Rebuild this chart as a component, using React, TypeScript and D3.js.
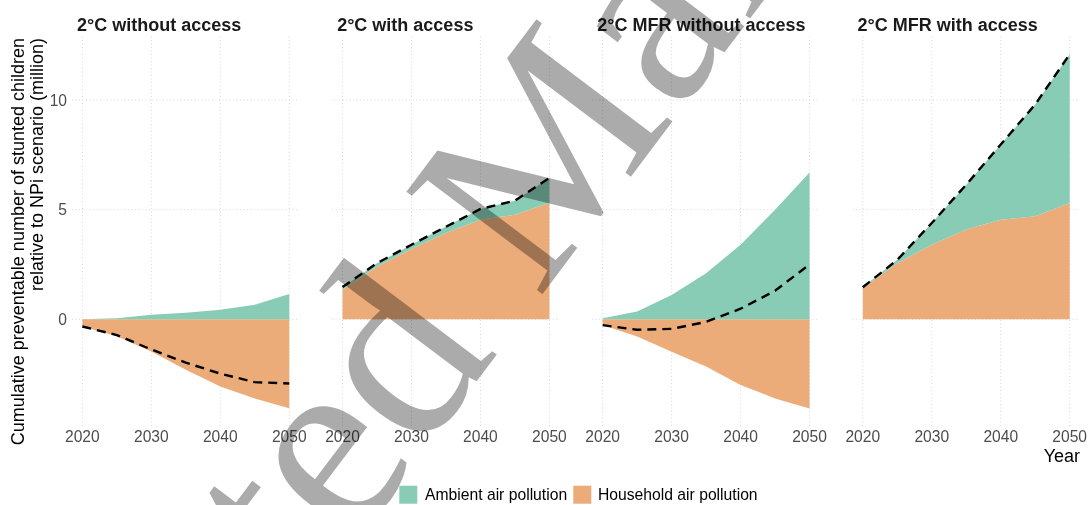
import React from "react";
import * as d3 from "d3";

const years = [2020, 2025, 2030, 2035, 2040, 2045, 2050];

const panelTitles = [
  "2°C without access",
  "2°C with access",
  "2°C MFR without access",
  "2°C MFR with access",
];

const household1 = [-0.33, -0.78, -1.47, -2.3, -3.07, -3.62, -4.06];
const ambient1 = [0.0, 0.05, 0.2, 0.3, 0.43, 0.66, 1.15];
const total1 = [-0.33, -0.72, -1.38, -1.98, -2.48, -2.87, -2.93];

const household2 = [1.35, 2.4, 3.2, 3.93, 4.54, 4.77, 5.31];
const ambient2 = [0.1, 0.15, 0.2, 0.3, 0.49, 0.64, 1.14];
const total2 = [1.47, 2.56, 3.4, 4.22, 5.03, 5.41, 6.45];

const household3 = [-0.26, -0.79, -1.48, -2.16, -3.0, -3.61, -4.07];
const ambient3 = [0.05, 0.35, 1.11, 2.1, 3.4, 5.0, 6.7];
const total3 = [-0.27, -0.48, -0.44, -0.12, 0.48, 1.3, 2.5];

const household4 = [1.42, 2.56, 3.4, 4.09, 4.54, 4.7, 5.3];
const ambient4 = [0.04, 0.15, 0.99, 2.05, 3.43, 5.1, 6.79];
const total4 = [1.46, 2.71, 4.39, 6.14, 7.97, 9.8, 12.09];

const householdSeries = [household1, household2, household3, household4];
const ambientSeries = [ambient1, ambient2, ambient3, ambient4];
const totalSeries = [total1, total2, total3, total4];

const xTicks = [2020, 2030, 2040, 2050];
const yTicks = [0, 5, 10];
const legendLabels = ["Ambient air pollution", "Household air pollution"];

const W = 1089;
const H = 505;
const COL_AMB = "#88CCB5";
const COL_HH = "#EBAC79";
const GRID = "#D6D6D6";
const TICK = "#4D4D4D";
const FONT = "'Liberation Sans', Arial, Helvetica, sans-serif";

const panelLeft0 = 72;
const panelStep = 260.15;
const panelW = 227.6;
const panelTop = 36.5;
const panelBottom = 426;

const y = d3.scaleLinear().domain([-4.87, 12.9]).range([panelBottom, panelTop]);

export default function App() {
  return (
    <>
      <style>{`body{margin:0;background:#fff}`}</style>
      <svg
        width={W}
        height={H}
        viewBox={`0 0 ${W} ${H}`}
        style={{ display: "block", position: "absolute", left: 0, top: 0, background: "#fff" }}
      >
        <rect x={0} y={0} width={W} height={H} fill="#fff" />
        {panelTitles.map((title, i) => {
          const left = panelLeft0 + i * panelStep;
          const x = d3
            .scaleLinear()
            .domain([2018.5, 2051.5])
            .range([left, left + panelW]);
          const rows = years.map((yr, j) => ({
            year: yr,
            household: householdSeries[i][j],
            ambient: ambientSeries[i][j],
          }));
          const stacked = d3
            .stack<any>()
            .keys(["household", "ambient"])
            .offset(d3.stackOffsetDiverging)(rows);
          const area = d3
            .area<any>()
            .x((d) => x(d.data.year))
            .y0((d) => y(d[0]))
            .y1((d) => y(d[1]));
          const line = d3
            .line<number>()
            .x((_, j) => x(years[j]))
            .y((d) => y(d));
          return (
            <g key={title}>
              {yTicks.map((t) => (
                <line
                  key={"h" + t}
                  x1={left}
                  x2={left + panelW}
                  y1={y(t)}
                  y2={y(t)}
                  stroke={GRID}
                  strokeWidth={1}
                  strokeDasharray="1,2.5"
                />
              ))}
              {xTicks.map((t) => (
                <line
                  key={"v" + t}
                  x1={x(t)}
                  x2={x(t)}
                  y1={panelTop}
                  y2={panelBottom}
                  stroke={GRID}
                  strokeWidth={1}
                  strokeDasharray="1,2.5"
                />
              ))}
              <path d={area(stacked[0] as any) || ""} fill={COL_HH} />
              <path d={area(stacked[1] as any) || ""} fill={COL_AMB} />
              <path
                d={line(totalSeries[i]) || ""}
                fill="none"
                stroke="#000"
                strokeWidth={2.4}
                strokeDasharray="9,6"
              />
              <text
                x={left + 5}
                y={30.5}
                fontFamily={FONT}
                fontWeight="bold"
                fontSize={18}
                fill="#1a1a1a"
              >
                {title}
              </text>
              {xTicks.map((t) => (
                <text
                  key={"xt" + t}
                  x={x(t)}
                  y={442}
                  textAnchor="middle"
                  fontFamily={FONT}
                  fontSize={15.6}
                  fill={TICK}
                >
                  {t}
                </text>
              ))}
            </g>
          );
        })}
        {yTicks.map((t) => (
          <text
            key={"yt" + t}
            x={67}
            y={y(t)}
            dy="0.36em"
            textAnchor="end"
            fontFamily={FONT}
            fontSize={15.6}
            fill={TICK}
          >
            {t}
          </text>
        ))}
        <text
          x={24}
          y={38}
          transform="rotate(-90 24 38)"
          textAnchor="end"
          fontFamily={FONT}
          fontSize={18}
          fill="#000"
        >
          Cumulative preventable number of stunted children
        </text>
        <text
          x={43}
          y={38}
          transform="rotate(-90 43 38)"
          textAnchor="end"
          fontFamily={FONT}
          fontSize={18}
          fill="#000"
        >
          relative to NPi scenario (million)
        </text>
        <text
          x={panelLeft0 + 3 * panelStep + panelW}
          y={462}
          textAnchor="end"
          fontFamily={FONT}
          fontSize={18}
          fill="#000"
        >
          Year
        </text>
        <rect x={399.3} y={485.7} width={18} height={18} fill={COL_AMB} />
        <text x={425} y={494.7} dy="0.36em" fontFamily={FONT} fontSize={15.7} fill="#000">
          {legendLabels[0]}
        </text>
        <rect x={573.3} y={485.7} width={18} height={18} fill={COL_HH} />
        <text x={598} y={494.7} dy="0.36em" fontFamily={FONT} fontSize={15.7} fill="#000">
          {legendLabels[1]}
        </text>
        <text
          x={-92}
          y={1136}
          transform="rotate(-53 -92 1136)"
          fontFamily="'Liberation Serif', 'Times New Roman', serif"
          fontSize={260}
          fill="#ABABAB"
          style={{ mixBlendMode: "multiply" }}
        >
          Accepted Manuscript
        </text>
      </svg>
    </>
  );
}
